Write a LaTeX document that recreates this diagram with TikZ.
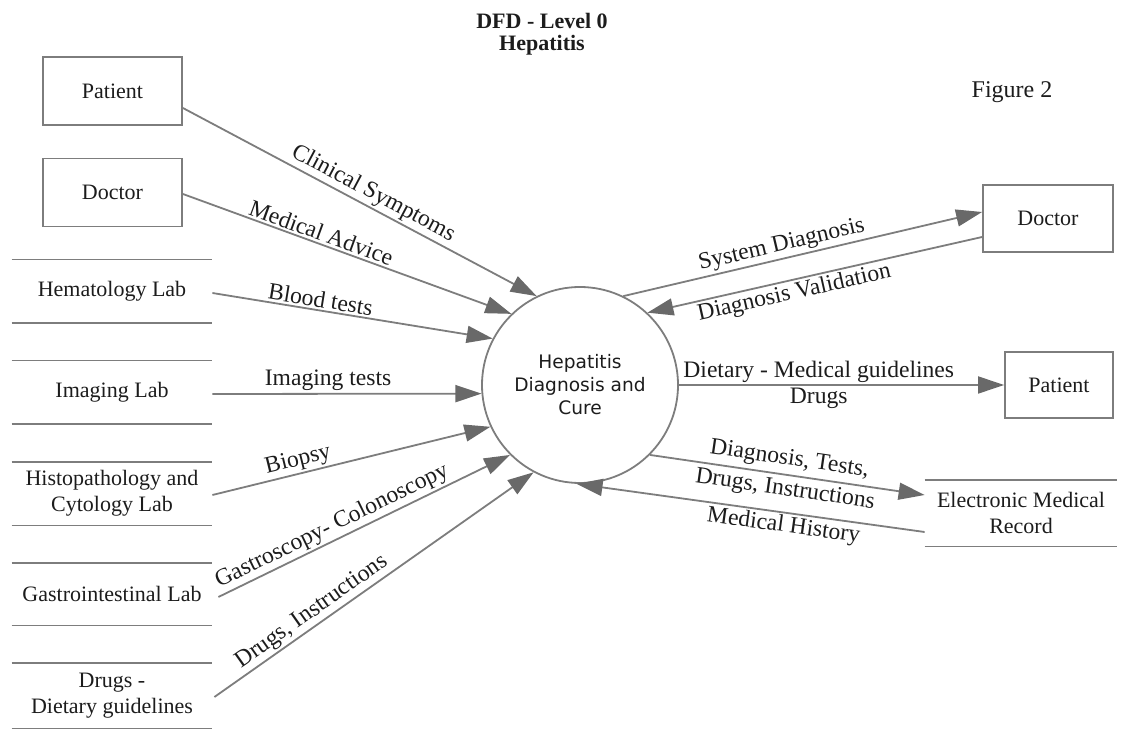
\documentclass[tikz,border=0pt]{standalone}
\usepackage{fontspec}
\setmainfont{Liberation Serif}
\newfontfamily\procfont{DejaVu Sans}
\usetikzlibrary{arrows.meta,calc}
\definecolor{linegray}{RGB}{125,125,125}
\definecolor{headgray}{RGB}{105,105,105}
\definecolor{inkblack}{RGB}{28,28,28}

\begin{document}
\begin{tikzpicture}[x=0.5pt,y=-0.5pt,
  every node/.style={text=inkblack},
  entity/.style={draw=linegray, line width=0.9pt, rectangle, inner sep=0pt,
    font=\fontsize{11}{13}\selectfont},
  store/.style={rectangle, inner sep=0pt, align=center,
    font=\fontsize{11}{13}\selectfont},
  storeline/.style={draw=linegray, line width=0.9pt},
  process/.style={draw=linegray, line width=0.9pt, circle, minimum size=98pt,
    inner sep=0pt, align=center, font=\procfont\fontsize{9.3}{11.5}\selectfont},
  flow/.style={draw=linegray, line width=0.9pt,
    -{Triangle[length=13pt,width=8.5pt,color=headgray]}},
  flowback/.style={draw=linegray, line width=0.9pt,
    {Triangle[length=13pt,width=8.5pt,color=headgray]}-},
  flowlabel/.style={sloped, inner sep=1pt, font=\fontsize{11.8}{13}\selectfont},
]
\useasboundingbox (0,0) rectangle (1144,731);

% heading
\node[font=\bfseries\fontsize{11}{11}\selectfont, align=center] (title) at (542,34)
  {DFD - Level 0\\Hepatitis};
\node[font=\fontsize{12}{14}\selectfont] (fignum) at (1012,92) {Figure 2};

% external entities
\node[entity, minimum width=69.5pt, minimum height=34pt] (patL) at (112.5,91) {Patient};
\node[entity, minimum width=69.5pt, minimum height=34pt] (docL) at (112.5,192.5) {Doctor};
\node[entity, minimum width=65pt, minimum height=33.5pt] (docR) at (1048,218.5) {Doctor};
\node[entity, minimum width=54pt, minimum height=33pt] (patR) at (1059,385) {Patient};

% data stores
\node[store, minimum width=100pt, minimum height=31.5pt] (hema) at (112,291.5) {Hematology Lab};
\node[store, minimum width=100pt, minimum height=31.5pt] (imag) at (112,392.5) {Imaging Lab};
\node[store, minimum width=100pt, minimum height=31.5pt] (histo) at (112,493.5) {Histopathology and\\Cytology Lab};
\node[store, minimum width=100pt, minimum height=31pt] (gastro) at (112,594) {Gastrointestinal Lab};
\node[store, minimum width=100pt, minimum height=32.5pt] (drugs) at (112,695.5) {Drugs -\\Dietary guidelines};
\node[store, minimum width=96pt, minimum height=33pt] (emr) at (1021,513) {Electronic Medical\\Record};
\foreach \s in {hema,imag,histo,gastro,drugs,emr}
  \draw[storeline] (\s.north west) -- (\s.north east) (\s.south west) -- (\s.south east);

% central process
\node[process] (proc) at (580,385) {Hepatitis\\Diagnosis and\\Cure};

% incoming flows
\draw[flow] ($(patL.east)+(0,17)$) -- node[flowlabel, pos=0.52, above] {Clinical Symptoms} (proc.116.6);
\draw[flow] ($(docL.east)+(0,1.5)$) -- node[flowlabel, pos=0.41, above] {Medical Advice} (proc.134.2);
\draw[flow] ($(hema.east)+(0,1.5)$) -- node[flowlabel, pos=0.38, above] {Blood tests} (proc.152.9);
\draw[flow] ($(imag.east)+(0,1.5)$) -- node[flowlabel, pos=0.43, above] {Imaging tests} (proc.185);
\draw[flow] ($(histo.east)+(0,1.5)$) -- node[flowlabel, pos=0.32, above] {Biopsy} (proc.205.5);
\draw[flow] ($(gastro.east)+(6,3)$) -- node[flowlabel, pos=0.41, above] {Gastroscopy- Colonoscopy} (proc.225);
\draw[flow] ($(drugs.east)+(2,1.5)$) -- node[flowlabel, pos=0.33, above] {Drugs, Instructions} (proc.242.9);

% flows on the right
\draw[flow] (proc.64.5) -- node[flowlabel, pos=0.45, above] {System Diagnosis} ($(docR.west)+(0,-6.5)$);
\draw[flowback] (proc.47) -- node[flowlabel, pos=0.43, below] {Diagnosis Validation} ($(docR.west)+(0,18.5)$);
\draw[flow] (proc.east) -- node[flowlabel, pos=0.43, above] {Dietary - Medical guidelines}
  node[flowlabel, pos=0.43, below] {Drugs} (patR.west);
\draw[flow] (proc.-45) -- node[flowlabel, pos=0.5, above, yshift=1pt] {Diagnosis, Tests,}
  node[flowlabel, pos=0.5, below, yshift=-1pt] {Drugs, Instructions} ($(emr.west)+(0,-18)$);
\draw[flowback] (proc.-92) -- node[flowlabel, pos=0.6, below] {Medical History} ($(emr.west)+(0,19)$);
\end{tikzpicture}
\end{document}
